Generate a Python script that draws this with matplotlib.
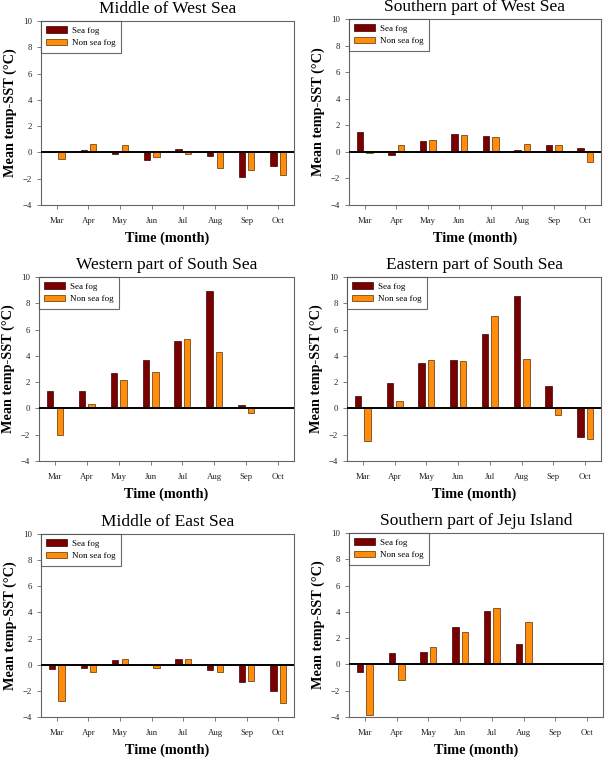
import numpy as np
import matplotlib
matplotlib.use("Agg")
import matplotlib.pyplot as plt

months = ["Mar", "Apr", "May", "Jun", "Jul", "Aug", "Sep", "Oct"]

titles = [
    "Middle of West Sea",
    "Southern part of West Sea",
    "Western part of South Sea",
    "Eastern part of South Sea",
    "Middle of East Sea",
    "Southern part of Jeju Island",
]

nan = np.nan
fog_mid_west = [0.05, 0.18, -0.10, -0.60, 0.28, -0.30, -1.85, -1.06]
nonfog_mid_west = [-0.52, 0.63, 0.58, -0.38, -0.15, -1.16, -1.30, -1.70]

fog_south_west = [1.50, -0.22, 0.78, 1.38, 1.18, 0.15, 0.50, 0.28]
nonfog_south_west = [-0.10, 0.48, 0.90, 1.30, 1.13, 0.60, 0.50, -0.75]

fog_west_south = [1.32, 1.33, 2.66, 3.70, 5.11, 8.91, 0.28, nan]
nonfog_west_south = [-2.00, 0.33, 2.15, 2.76, 5.29, 4.28, -0.38, nan]

fog_east_south = [0.91, 1.97, 3.44, 3.66, 5.69, 8.54, 1.69, -2.15]
nonfog_east_south = [-2.50, 0.58, 3.66, 3.59, 7.05, 3.79, -0.50, -2.33]

fog_mid_east = [-0.33, -0.28, 0.36, 0.05, 0.46, -0.38, -1.32, -1.98]
nonfog_mid_east = [-2.74, -0.56, 0.43, -0.23, 0.41, -0.56, -1.27, -2.90]

fog_jeju = [-0.60, 0.89, 0.96, 2.86, 4.05, 1.54, nan, nan]
nonfog_jeju = [-3.87, -1.22, 1.29, 2.43, 4.28, 3.22, nan, nan]

fog_series = [fog_mid_west, fog_south_west, fog_west_south, fog_east_south, fog_mid_east, fog_jeju]
nonfog_series = [nonfog_mid_west, nonfog_south_west, nonfog_west_south, nonfog_east_south, nonfog_mid_east, nonfog_jeju]

W, H = 609, 764
# axes boxes in pixels: left, right, top, bottom
boxes = [
    (41, 294, 21, 205),
    (349, 601, 19, 205),
    (39, 294, 277, 461),
    (347, 601, 277, 461),
    (41, 294, 534, 717),
    (349, 603, 533, 717),
]

plt.rcParams["font.family"] = ["Liberation Serif", "DejaVu Serif"]
fig = plt.figure(figsize=(W / 100, H / 100), dpi=100)

fog_color = "#7a0000"
nonfog_color = "#ff8c0a"
spine_color = "#666666"
x = np.arange(len(months))
bw = 0.2
off = 0.15

for i, (l, r, t, b) in enumerate(boxes):
    ax = fig.add_axes([l / W, 1 - b / H, (r - l) / W, (b - t) / H])
    ax.bar(x - off, fog_series[i], width=bw, color=fog_color, edgecolor="#3a0000",
           linewidth=0.5, label="Sea fog", zorder=2)
    ax.bar(x + off, nonfog_series[i], width=bw, color=nonfog_color, edgecolor="#5a3000",
           linewidth=0.5, label="Non sea fog", zorder=2)
    ax.axhline(0, color="black", linewidth=1.4, zorder=3)
    ax.set_xlim(-0.5, 7.5)
    ax.set_ylim(-4, 10)
    ax.set_yticks([-4, -2, 0, 2, 4, 6, 8, 10])
    ax.set_xticks(x)
    ax.set_xticklabels(months)
    ax.tick_params(axis="both", labelsize=6.3, length=3, width=0.6, color=spine_color,
                   labelcolor="#222222", direction="out", pad=3.5)
    ax.tick_params(axis="x", pad=5.5)
    for s in ax.spines.values():
        s.set_color(spine_color)
        s.set_linewidth(0.8)
    ax.set_title(titles[i], fontsize=12.5, pad=6)
    ax.set_ylabel("Mean temp-SST (\u00b0C)", fontsize=10.3, fontweight="bold", labelpad=4)
    ax.set_xlabel("Time (month)", fontsize=10.3, fontweight="bold", labelpad=5)
    leg = ax.legend(loc="upper left", fontsize=6.5, frameon=True, fancybox=False,
                    borderaxespad=0, handlelength=2.3, handleheight=0.7,
                    borderpad=0.6, labelspacing=0.45, handletextpad=0.5)
    leg.get_frame().set_edgecolor("#444444")
    leg.get_frame().set_linewidth(0.8)

fig.savefig("out.png", dpi=100)
